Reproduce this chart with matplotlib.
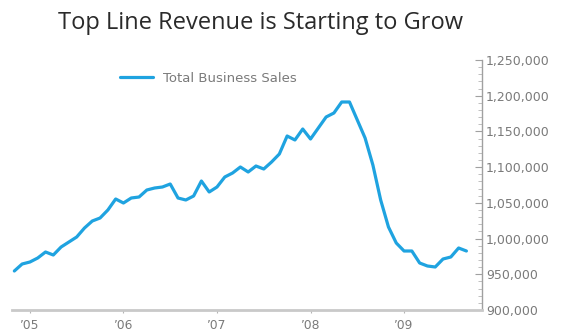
import matplotlib
matplotlib.use("Agg")
import matplotlib.pyplot as plt
from matplotlib.ticker import FuncFormatter, MultipleLocator

# Monthly total business sales (millions of dollars)
sales = [
    954600, 964400, 967200, 972800, 981200, 977000, 988200, 995200, 1002200, 1014800,
    1024600, 1028800, 1040000, 1055400, 1049800, 1056800, 1058200, 1068000, 1070800, 1072200,
    1076400, 1056800, 1054000, 1059600, 1080600, 1065200, 1072200, 1086200, 1091800, 1100200,
    1093200, 1101600, 1097400, 1107200, 1118400, 1143600, 1138000, 1153400, 1139400, 1154800,
    1170200, 1175800, 1191200, 1191200, 1166000, 1140800, 1103000, 1054000, 1016200, 993800,
    982600, 982600, 965800, 961600, 960200, 971400, 974200, 986800, 982600,
]
year_labels = ["\u201905", "\u201906", "\u201907", "\u201908", "\u201909"]
year_tick_index = [2, 14, 26, 38, 50]
series_name = "Total Business Sales"
title = "Top Line Revenue is Starting to Grow"

FONT = "DejaVu Sans"
TITLE_FONT = "Open Sans"
LINE = "#1fa3e0"
GREY_TXT = "#7a7a7a"

fig = plt.figure(figsize=(5.68, 3.35), dpi=100)
ax = fig.add_axes([12 / 568, 1 - 310 / 335, 470 / 568, 250 / 335])

months = list(range(len(sales)))
ax.plot(months, sales, color=LINE, lw=2.3, solid_joinstyle="round",
        solid_capstyle="round", label=series_name)

ax.set_ylim(900000, 1250000)
ax.set_xlim(-0.3, len(sales) - 1 + 2.0)

for s in ("top", "left"):
    ax.spines[s].set_visible(False)
ax.spines["bottom"].set_color("#c9c9c9")
ax.spines["bottom"].set_linewidth(2.0)
ax.spines["right"].set_color("#a0a0a0")
ax.spines["right"].set_linewidth(1.0)

ax.yaxis.tick_right()
ax.yaxis.set_major_locator(MultipleLocator(50000))
ax.yaxis.set_minor_locator(MultipleLocator(10000))
ax.yaxis.set_major_formatter(FuncFormatter(lambda v, p: f"{int(v):,}"))
ax.tick_params(axis="y", which="major", direction="in", length=5, width=0.8,
               color="#a0a0a0", labelsize=9, labelcolor=GREY_TXT, pad=3)
ax.tick_params(axis="y", which="minor", direction="in", length=3, width=0.6,
               color="#b5b5b5")

ax.set_xticks(year_tick_index)
ax.set_xticklabels(year_labels)
ax.tick_params(axis="x", direction="out", length=2.5, width=0.8, color="#b5b5b5",
               labelsize=8.8, labelcolor=GREY_TXT, pad=4)

for lab in ax.get_xticklabels() + ax.get_yticklabels():
    lab.set_family(FONT)

leg = ax.legend(loc="upper left", bbox_to_anchor=(0.205, 1.0), frameon=False,
                handlelength=2.5, handletextpad=0.75,
                prop={"family": FONT, "size": 9.5})
for t in leg.get_texts():
    t.set_color(GREY_TXT)

fig.text(260 / 568, 1 - 23 / 335, title, ha="center", va="center",
         family=TITLE_FONT, fontsize=17, color="#2a2a2a")

fig.savefig("out.png", dpi=100)
